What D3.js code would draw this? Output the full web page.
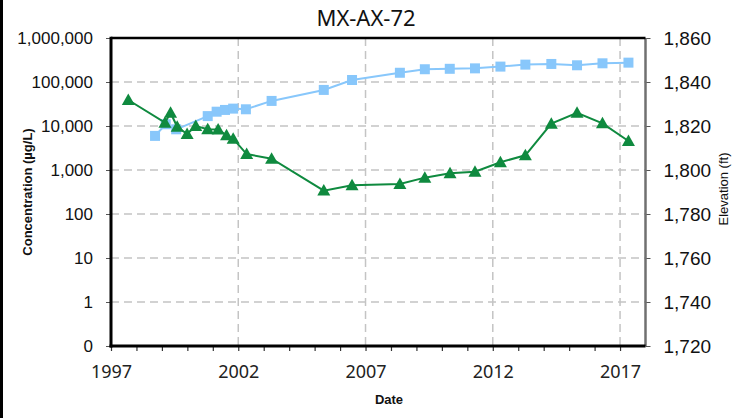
<!DOCTYPE html>
<html>
<head>
<meta charset="utf-8">
<script src="https://cdn.jsdelivr.net/npm/d3@7"></script>
<style>
  html, body { margin: 0; padding: 0; background: #fff; }
  svg { display: block; }
</style>
</head>
<body>
<svg id="chart" width="732" height="418"></svg>
<script>
// Well MX-AX-72: concentration (log, left) and elevation (right) over time
const concDates = [1997.68, 1999.12, 1999.34, 1999.60, 1999.99, 2000.33, 2000.80, 2001.21,
  2001.54, 2001.80, 2002.33, 2003.31, 2005.36, 2006.47, 2008.35, 2009.33, 2010.32,
  2011.30, 2012.30, 2013.28, 2014.30, 2015.31, 2016.31, 2017.33];
const concValues = [39000, 11900, 20000, 9600, 6600, 10000, 8400, 8300,
  6150, 5150, 2300, 1800, 340, 450, 480, 670, 840,
  910, 1500, 2160, 11300, 20000, 11500, 4560];

const elevDates = [1998.73, 1999.15, 1999.56, 2000.80, 2001.15, 2001.48, 2001.80, 2002.30,
  2003.31, 2005.36, 2006.47, 2008.35, 2009.33, 2010.31, 2011.30, 2012.30, 2013.28,
  2014.30, 2015.31, 2016.31, 2017.33];
const elevValues = [1815.5, 1820.8, 1818.5, 1824.5, 1826.5, 1827.3, 1827.9, 1827.6,
  1831.4, 1836.4, 1840.9, 1844.2, 1845.8, 1846.0, 1846.2, 1847.0, 1847.9,
  1848.2, 1847.6, 1848.5, 1848.8];

const concTicks = [0.1, 1, 10, 100, 1000, 10000, 100000, 1000000];
const concTickLabels = ["0", "1", "10", "100", "1,000", "10,000", "100,000", "1,000,000"];
const elevTicks = [1720, 1740, 1760, 1780, 1800, 1820, 1840, 1860];
const yearTicks = [1997, 2002, 2007, 2012, 2017];

const title = "MX-AX-72";
const leftTitle = "Concentration (µg/L)";
const rightTitle = "Elevation (ft)";
const bottomTitle = "Date";

const green = "#0f8a3f";
const blue = "#88c7fb";

const svg = d3.select("#chart");
const L = 111, R = 645.5, T = 38, B = 346;

const x = d3.scaleLinear().domain([1997, 2018]).range([L, R]);
const yC = d3.scaleLog().domain([0.1, 1000000]).range([B, T]);
const yE = d3.scaleLinear().domain([1720, 1860]).range([B, T]);

// page edge rule
svg.append("rect").attr("x", 0).attr("y", 0).attr("width", 3).attr("height", 418).attr("fill", "#000");

// gridlines
const grid = svg.append("g").attr("stroke", "#c4c4c4").attr("stroke-width", 1.5).attr("stroke-dasharray", "8,5");
grid.selectAll("line.h").data(concTicks.slice(1, -1)).join("line")
  .attr("x1", L).attr("x2", R).attr("y1", d => yC(d)).attr("y2", d => yC(d));
grid.selectAll("line.v").data(yearTicks.slice(1)).join("line")
  .attr("x1", d => x(d)).attr("x2", d => x(d)).attr("y1", T).attr("y2", B);

// axes
const font = "Liberation Sans, Arial, sans-serif";
const leftAxis = d3.axisLeft(yC).tickValues(concTicks)
  .tickFormat((d, i) => concTickLabels[i]).tickSize(5).tickPadding(13);
const gL = svg.append("g").attr("transform", `translate(${L},0)`).call(leftAxis);
gL.select(".domain").remove();
gL.selectAll("line").attr("stroke", "#555");
gL.selectAll("text").attr("font-family", font).attr("font-size", 17).attr("fill", "#111");

const rightAxis = d3.axisRight(yE).tickValues(elevTicks)
  .tickFormat(d3.format(",")).tickSize(5).tickPadding(13);
const gR = svg.append("g").attr("transform", `translate(${R},0)`).call(rightAxis);
gR.select(".domain").remove();
gR.selectAll("line").attr("stroke", "#555");
gR.selectAll("text").attr("font-family", font).attr("font-size", 19).attr("fill", "#111");

const bottomAxis = d3.axisBottom(x).tickValues(d3.range(1997, 2018))
  .tickFormat(d => yearTicks.includes(d) ? String(d) : "").tickSize(5).tickPadding(14);
const gB = svg.append("g").attr("transform", `translate(0,${B})`).call(bottomAxis);
gB.select(".domain").remove();
gB.selectAll("line").attr("stroke", "#333").attr("stroke-width", 1.2);
gB.selectAll("text").attr("font-family", "Noto Sans, Open Sans, sans-serif").attr("font-size", 18).attr("fill", "#222");

// plot frame
svg.append("line").attr("x1", R).attr("x2", R).attr("y1", T).attr("y2", B)
  .attr("stroke", "#707070").attr("stroke-width", 2.5);
svg.append("line").attr("x1", L).attr("x2", R).attr("y1", T).attr("y2", T)
  .attr("stroke", "#000").attr("stroke-width", 2.5);
svg.append("line").attr("x1", L - 1.5).attr("x2", R).attr("y1", B).attr("y2", B)
  .attr("stroke", "#000").attr("stroke-width", 3);
svg.append("line").attr("x1", L).attr("x2", L).attr("y1", T - 1.2).attr("y2", B + 1.5)
  .attr("stroke", "#000").attr("stroke-width", 3);

// elevation series: light blue squares
const elevPts = elevDates.map((d, i) => [x(d), yE(elevValues[i])]);
svg.append("path").attr("d", d3.line()(elevPts))
  .attr("fill", "none").attr("stroke", blue).attr("stroke-width", 2);
svg.append("g").selectAll("path").data(elevPts).join("path")
  .attr("d", d3.symbol(d3.symbolSquare, 100)())
  .attr("transform", d => `translate(${d[0]},${d[1]})`)
  .attr("fill", blue);

// concentration series: green triangles
const concPts = concDates.map((d, i) => [x(d), yC(concValues[i])]);
svg.append("path").attr("d", d3.line()(concPts))
  .attr("fill", "none").attr("stroke", green).attr("stroke-width", 2);
svg.append("g").selectAll("path").data(concPts).join("path")
  .attr("d", "M0,-6.5L6.5,5L-6.5,5Z")
  .attr("transform", d => `translate(${d[0]},${d[1]})`)
  .attr("fill", green);

// titles
svg.append("text").attr("x", 366).attr("y", 26).attr("text-anchor", "middle")
  .attr("font-family", "Noto Sans, Open Sans, sans-serif").attr("font-size", 22).attr("fill", "#111")
  .text(title);
svg.append("text").attr("transform", "translate(32,192) rotate(-90)").attr("text-anchor", "middle")
  .attr("font-family", font).attr("font-size", 13).attr("font-weight", "bold").attr("fill", "#111")
  .text(leftTitle);
svg.append("text").attr("transform", "translate(728,189) rotate(-90)").attr("text-anchor", "middle")
  .attr("font-family", font).attr("font-size", 13).attr("fill", "#111")
  .text(rightTitle);
svg.append("text").attr("x", 389).attr("y", 404).attr("text-anchor", "middle")
  .attr("font-family", font).attr("font-size", 13).attr("font-weight", "bold").attr("fill", "#111")
  .text(bottomTitle);
</script>
</body>
</html>
